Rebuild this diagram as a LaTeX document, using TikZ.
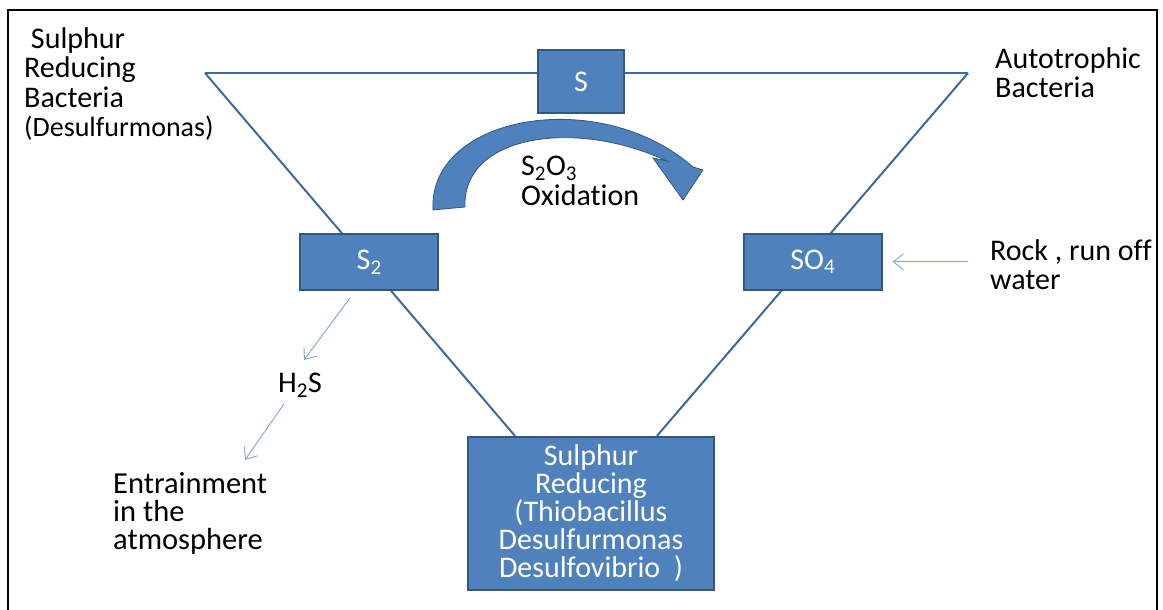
\documentclass[tikz,border=0pt]{standalone}
\usepackage{fontspec}
\setmainfont{Carlito}[Ligatures=NoCommon]
\usetikzlibrary{positioning,arrows.meta,backgrounds}
\definecolor{boxfill}{RGB}{79,129,189}
\definecolor{boxline}{RGB}{52,86,128}
\definecolor{linecol}{RGB}{62,106,155}
\definecolor{arrowcol}{RGB}{125,163,215}

\begin{document}
\begin{tikzpicture}[
	x=1pt, y=-1pt,
	node distance=1cm and 0cm,
	mybox/.style={draw=boxline, fill=boxfill, line width=1.8pt, text=white, align=center, inner sep=0pt, font=\fontsize{30}{28}\selectfont},
	mylabel/.style={anchor=north west, inner sep=0pt, align=left, font=\fontsize{30}{29.5}\selectfont},
	thinarrow/.style={draw=arrowcol, line width=0.9pt, -{Straight Barb[length=10pt,width=16pt]}}
	]
	\useasboundingbox (0,0) rectangle (1163,610);
	\draw[line width=2.2pt] (8,610) -- (8,10) -- (1157,10) -- (1157,610);

	\node[mybox, minimum width=86pt, minimum height=63pt] (s) at (581,81.5) {S};
	\node[mybox, minimum width=138pt, minimum height=56pt, below left=119pt and 98pt of s] (s2) {S\textsubscript{2}};
	\node[mybox, minimum width=138pt, minimum height=56pt, below right=119pt and 118pt of s] (so4) {SO\textsubscript{4}};
	\node[mybox, minimum width=246pt, minimum height=153pt, below=322pt of s, xshift=10pt] (bot) {Sulphur\\Reducing\\(Thiobacillus\\Desulfurmonas\\Desulfovibrio\ \ )};

	\node[mylabel] (srb) at (24,27) {\ Sulphur\\Reducing\\Bacteria\\{\fontsize{28}{29}\selectfont(Desulfurmonas)}};
	\node[mylabel] (auto) at (995,47) {Autotrophic\\Bacteria};
	\node[mylabel, font=\fontsize{30}{30}\selectfont] (ox) at (521,156) {S\textsubscript{2}O\textsubscript{3}\\Oxidation};
	\node[mylabel] (rock) at (990,239) {Rock , run off\\water};
	\node[mylabel] (h2s) at (278,373) {H\textsubscript{2}S};
	\node[mylabel, font=\fontsize{30.5}{28}\selectfont] (ent) at (113,472) {Entrainment\\in the\\atmosphere};

	\coordinate (tl) at (205,73);
	\coordinate (tr) at (968,73);
	\begin{scope}[on background layer]
	\draw[linecol, line width=2pt] (tl) -- (tr);
	\draw[linecol, line width=2pt] (tl) -- ([xshift=-76pt]bot.north);
	\draw[linecol, line width=2pt] (tr) -- ([xshift=66pt]bot.north);
	\end{scope}

	% curved arrow
	\draw[boxline, fill=boxfill, line width=0.8pt] (433,210) .. controls (428,115) and (600,85) .. (693,167) -- (703,170) -- (683,200) -- (653,158) -- (667,161) .. controls (575,118) and (462,135) .. (465,207) -- cycle;

	\draw[thinarrow] ([xshift=-19pt,yshift=-7pt]s2.south) -- ([xshift=4pt,yshift=13pt]h2s.north);
	\draw[thinarrow] ([xshift=-16pt,yshift=-6pt]h2s.south) -- ([xshift=132pt,yshift=12pt]ent.north west);
	\draw[thinarrow, shorten <=22pt, shorten >=10pt] (rock.west |- so4.east) -- (so4.east);

\end{tikzpicture}
\end{document}
